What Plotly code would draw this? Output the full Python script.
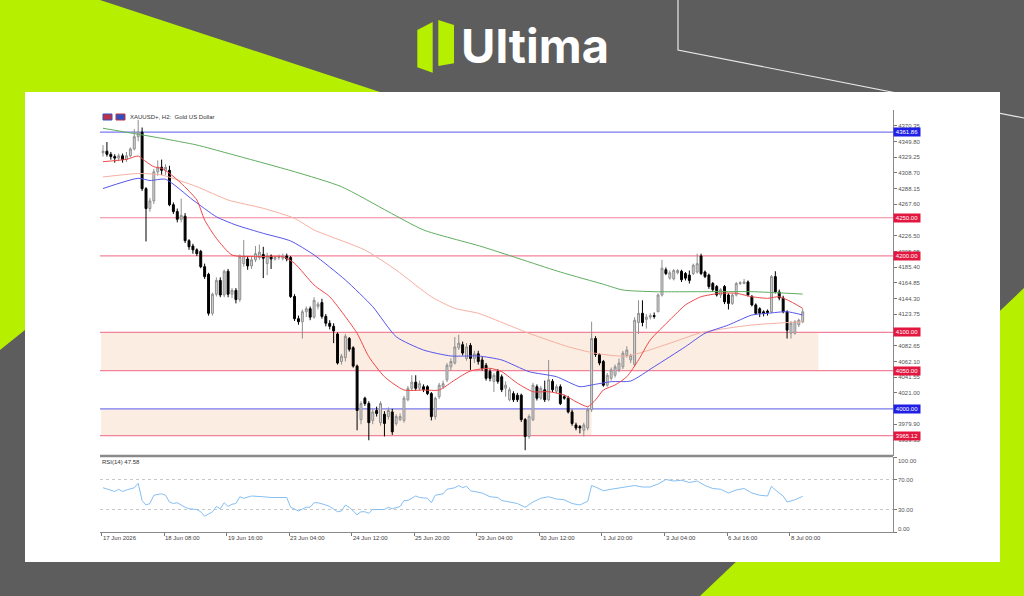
import plotly.graph_objects as go

# ---------------- data ----------------
date_labels = ["17 Jun 2026", "18 Jun 08:00", "19 Jun 16:00", "23 Jun 04:00", "24 Jun 12:00",
               "25 Jun 20:00", "29 Jun 04:00", "30 Jun 12:00", "1 Jul 20:00", "3 Jul 04:00",
               "6 Jul 16:00", "8 Jul 00:00"]
label_bars = [0, 16, 32, 48, 64, 80, 96, 112, 128, 144, 160, 176]

opens = [4335, 4337, 4333, 4330, 4328, 4331, 4326, 4331, 4340, 4356,
         4362, 4288, 4262, 4272, 4310, 4316, 4312, 4312, 4267, 4258,
         4248, 4252, 4220, 4213, 4208, 4206, 4186, 4176, 4125, 4150,
         4168, 4149, 4180, 4150, 4155, 4143, 4190, 4196, 4187, 4195,
         4198, 4202, 4190, 4200, 4196, 4198, 4197, 4200, 4198, 4147,
         4118, 4114, 4127, 4131, 4120, 4134, 4139, 4121, 4112, 4108,
         4098, 4062, 4067, 4092, 4080, 4056, 3986, 4014, 4007, 3985,
         3998, 3982, 3993, 3990, 3996, 3981, 3986, 3985, 4012, 4027,
         4035, 4027, 4029, 4029, 4020, 3990, 4016, 4029, 4038, 4055,
         4060, 4080, 4084, 4066, 4083, 4066, 4072, 4064, 4057, 4049,
         4036, 4049, 4042, 4027, 4012, 4020, 4018, 4018, 3986, 3964,
         3986, 4029, 4014, 4025, 4012, 4036, 4023, 4029, 4016, 4014,
         3996, 3979, 3977, 3972, 3975, 3999, 4092, 4071, 4062, 4031,
         4040, 4044, 4051, 4055, 4070, 4064, 4058, 4113, 4125, 4117,
         4120, 4122, 4127, 4149, 4182, 4171, 4170, 4178, 4180, 4177,
         4175, 4177, 4179, 4200, 4179, 4175, 4164, 4160, 4149, 4160,
         4149, 4138, 4149, 4164, 4164, 4166, 4147, 4136, 4131, 4127,
         4128, 4127, 4173, 4153, 4145, 4127, 4099, 4099, 4110, 4114]
highs = [4345, 4349, 4336, 4333, 4334, 4334, 4336, 4342, 4366, 4378,
         4368, 4290, 4276, 4314, 4325, 4326, 4320, 4318, 4270, 4262,
         4275, 4256, 4222, 4216, 4210, 4208, 4190, 4178, 4152, 4172,
         4172, 4182, 4183, 4158, 4158, 4202, 4221, 4200, 4200, 4213,
         4215, 4212, 4204, 4202, 4200, 4202, 4203, 4203, 4200, 4150,
         4122, 4130, 4134, 4134, 4146, 4140, 4144, 4124, 4116, 4112,
         4100, 4072, 4098, 4094, 4082, 4058, 4010, 4016, 4010, 4000,
         4003, 4010, 3997, 4002, 4000, 3993, 3994, 4017, 4030, 4044,
         4044, 4037, 4032, 4031, 4022, 4016, 4034, 4037, 4060, 4066,
         4094, 4097, 4088, 4086, 4086, 4076, 4076, 4068, 4060, 4052,
         4047, 4052, 4045, 4036, 4028, 4023, 4021, 4020, 3988, 3993,
         4034, 4032, 4030, 4037, 4064, 4039, 4032, 4032, 4018, 4017,
         3999, 3982, 3979, 3982, 4002, 4114, 4095, 4073, 4064, 4047,
         4054, 4058, 4066, 4076, 4082, 4072, 4120, 4142, 4142, 4124,
         4125, 4126, 4151, 4195, 4185, 4181, 4183, 4183, 4182, 4179,
         4181, 4190, 4203, 4203, 4181, 4177, 4166, 4162, 4158, 4162,
         4151, 4151, 4166, 4167, 4170, 4168, 4149, 4138, 4133, 4129,
         4130, 4175, 4180, 4156, 4148, 4129, 4115, 4116, 4118, 4131]
lows = [4330, 4330, 4326, 4322, 4324, 4322, 4323, 4329, 4338, 4350,
        4285, 4219, 4258, 4268, 4305, 4306, 4306, 4265, 4255, 4244,
        4244, 4217, 4208, 4203, 4200, 4184, 4170, 4122, 4122, 4147,
        4146, 4146, 4146, 4145, 4138, 4140, 4186, 4182, 4183, 4192,
        4195, 4171, 4175, 4183, 4194, 4195, 4194, 4193, 4145, 4115,
        4110, 4092, 4120, 4116, 4118, 4130, 4118, 4108, 4104, 4086,
        4058, 4058, 4062, 4075, 4054, 3972, 3980, 4004, 3959, 3980,
        3990, 3978, 3964, 3986, 3966, 3978, 3984, 3982, 4010, 4024,
        4024, 4024, 4022, 4018, 3985, 3986, 4013, 4026, 4035, 4050,
        4058, 4077, 4070, 4063, 4051, 4060, 4058, 4050, 4037, 4036,
        4022, 4033, 4022, 4016, 4010, 4009, 4009, 3983, 3946, 3961,
        3984, 4011, 4012, 4009, 4010, 4022, 4020, 4005, 4012, 3994,
        3978, 3972, 3968, 3964, 3972, 3996, 4068, 4057, 4029, 4029,
        4037, 4041, 4048, 4052, 4067, 4060, 4055, 4098, 4108, 4105,
        4117, 4118, 4127, 4147, 4175, 4169, 4168, 4176, 4166, 4168,
        4164, 4175, 4177, 4175, 4171, 4157, 4153, 4147, 4145, 4137,
        4130, 4136, 4147, 4162, 4163, 4147, 4134, 4123, 4120, 4121,
        4122, 4125, 4151, 4142, 4125, 4092, 4092, 4097, 4107, 4112]
closes = [4337, 4333, 4330, 4328, 4331, 4326, 4331, 4340, 4356, 4362,
          4288, 4262, 4272, 4310, 4316, 4312, 4316, 4267, 4258, 4248,
          4253, 4220, 4212, 4208, 4203, 4186, 4173, 4125, 4150, 4168,
          4149, 4180, 4150, 4155, 4143, 4199, 4200, 4187, 4195, 4203,
          4205, 4197, 4200, 4196, 4198, 4199, 4200, 4196, 4147, 4118,
          4114, 4127, 4131, 4120, 4142, 4137, 4121, 4112, 4108, 4102,
          4060, 4069, 4095, 4078, 4056, 3998, 4007, 4007, 3982, 3996,
          3994, 4007, 3981, 3998, 3970, 3990, 3990, 4014, 4027, 4035,
          4027, 4033, 4025, 4020, 3990, 4014, 4031, 4033, 4057, 4062,
          4081, 4086, 4073, 4081, 4066, 4072, 4062, 4053, 4040, 4040,
          4044, 4036, 4025, 4031, 4025, 4012, 4012, 3986, 3964, 3990,
          4031, 4014, 4027, 4012, 4038, 4025, 4029, 4007, 4014, 3996,
          3981, 3975, 3975, 3979, 3999, 4092, 4071, 4060, 4031, 4044,
          4051, 4055, 4060, 4073, 4077, 4070, 4116, 4125, 4113, 4120,
          4122, 4121, 4149, 4184, 4177, 4178, 4181, 4181, 4169, 4171,
          4168, 4188, 4190, 4177, 4173, 4160, 4156, 4149, 4156, 4140,
          4138, 4149, 4164, 4165, 4166, 4149, 4136, 4125, 4125, 4125,
          4126, 4173, 4153, 4145, 4127, 4103, 4112, 4114, 4116, 4127]

# moving averages (bar index, price)
ma_red_bars = [0, 6, 9, 11, 13, 15, 17, 20, 24, 26, 29, 33, 39, 46, 49, 54, 58, 62, 65, 68,
               72, 77, 82, 86, 90, 94, 99, 102, 106, 110, 114, 118, 121, 124, 126, 128, 131,
               134, 137, 140, 145, 149, 153, 158, 162, 166, 170, 173, 176, 179]
ma_red_vals = [4323.3, 4326.4, 4330.7, 4323.3, 4316.7, 4314.6, 4308.1, 4295.0, 4273.2, 4247.0,
               4223.1, 4201.3, 4199.1, 4199.1, 4190.4, 4162.0, 4146.7, 4120.6, 4098.9, 4068.3,
               4042.1, 4024.7, 4024.7, 4024.7, 4037.8, 4049.6, 4053.1, 4048.7, 4033.5, 4022.5,
               4022.5, 4018.2, 4009.4, 4002.9, 4011.7, 4024.7, 4031.3, 4042.1, 4064.0, 4090.1,
               4116.3, 4135.9, 4146.7, 4151.2, 4151.2, 4146.7, 4144.6, 4146.7, 4140.2, 4131.5]
ma_blue_bars = [0, 9, 12, 16, 23, 29, 34, 41, 48, 54, 62, 69, 75, 82, 89, 96, 102, 109, 116,
                122, 125, 130, 135, 141, 149, 154, 160, 166, 170, 175, 179]
ma_blue_vals = [4288.2, 4301.6, 4298.7, 4300.3, 4273.2, 4251.3, 4240.5, 4229.6, 4219.6, 4201.3,
                4168.6, 4133.7, 4094.4, 4077.0, 4069.2, 4069.2, 4064.0, 4048.7, 4042.1, 4029.0,
                4031.3, 4035.6, 4036.5, 4055.2, 4081.4, 4098.9, 4109.7, 4122.8, 4125.0, 4127.1,
                4122.8]
ma_salmon_bars = [0, 9, 15, 24, 32, 41, 49, 54, 67, 75, 84, 90, 96, 109, 119, 126, 134, 145,
                  153, 166, 179]
ma_salmon_vals = [4303.3, 4307.8, 4305.9, 4290.6, 4273.2, 4262.3, 4249.2, 4234.0, 4207.8, 4181.6,
                  4146.7, 4131.5, 4125.0, 4098.8, 4081.3, 4072.7, 4069.0, 4085.8, 4099.7, 4109.7,
                  4114.0]
ma_green_bars = [0, 15, 24, 32, 49, 61, 73, 82, 97, 117, 128, 133, 141, 154, 166, 179]
ma_green_vals = [4367.0, 4353.9, 4345.1, 4334.2, 4310.2, 4290.6, 4257.9, 4234.0, 4212.1, 4179.0,
                 4163.0, 4155.5, 4153.3, 4153.3, 4153.3, 4150.2]

rsi_bars = [0, 2, 3, 4, 5, 6, 7, 8, 9, 10, 11, 12, 13, 15, 16, 17, 18, 19, 21, 22, 24, 25, 26,
            28, 29, 30, 31, 32, 33, 34, 35, 36, 38, 40, 41, 43, 47, 48, 49, 50, 52, 53, 54, 55,
            57, 58, 60, 61, 62, 63, 65, 66, 67, 68, 69, 71, 72, 73, 74, 76, 77, 78, 80, 81, 83,
            84, 85, 87, 88, 90, 91, 92, 93, 94, 96, 97, 99, 101, 102, 104, 106, 108, 110, 112,
            114, 116, 118, 120, 122, 124, 125, 126, 128, 130, 132, 134, 136, 138, 140, 142, 144,
            146, 148, 150, 152, 154, 156, 158, 160, 162, 164, 166, 168, 170, 171, 172, 174, 175,
            176, 177, 179]
rsi_vals = [59, 56, 54, 57, 54, 56, 57, 59, 65, 42, 36, 38, 49, 51, 49, 40, 38, 39, 33, 31, 30,
            27, 21, 27, 34, 31, 39, 34, 37, 38, 47, 45, 48, 48, 47, 46, 46, 33, 30, 28, 33, 33,
            39, 39, 36, 34, 27, 28, 36, 33, 23, 27, 27, 25, 30, 30, 30, 33, 31, 34, 42, 42, 48,
            46, 45, 39, 49, 51, 57, 59, 62, 59, 61, 55, 53, 52, 47, 46, 42, 40, 38, 33, 40, 45,
            47, 44, 43, 38, 36, 41, 62, 60, 55, 57, 59, 60, 62, 60, 60, 64, 70, 68, 69, 66, 68,
            62, 58, 57, 52, 56, 58, 52, 49, 48, 61, 56, 48, 40, 41, 43, 47.58]

level_prices = [4361.86, 4250.00, 4200.00, 4100.00, 4050.00, 4000.00, 3965.12]
level_texts = ["4361.86", "4250.00", "4200.00", "4100.00", "4050.00", "4000.00", "3965.12"]
level_kinds = ["blue", "red", "red", "red", "red", "blue", "red"]
zone_low = [4050.00, 3965.12]
zone_high = [4100.00, 4000.00]
zone_start_bar = [-0.5, -0.5]
zone_end_bar = [183.0, 125.0]

price_ticks = [4370.35, 4349.80, 4329.25, 4308.70, 4288.15, 4267.60, 4247.05, 4226.50, 4205.95,
               4185.40, 4164.85, 4144.30, 4123.75, 4103.20, 4082.65, 4062.10, 4041.55, 4021.00,
               4000.45, 3979.90, 3959.35]
# ticks whose labels sit fully under a level price box
covered_ticks = [4247.05, 4103.20, 4000.45]
rsi_ticks = [100, 70, 30, 0]
rsi_tick_texts = ["100.00", "70.00", "30.00", "0.00"]
rsi_levels = [70, 30]
title_text = "XAUUSD+, H2:  Gold US Dollar"
rsi_title = "RSI(14) 47.58"
brand = "Ultima"

# ---------------- layout helpers (pixel -> paper) ----------------
W, H = 1024, 596
def X(p):
    return p / W
def Y(p):
    return 1 - p / H

GRAY = "#5d5d5d"
LIME = "#b6ef00"
FONT = "Liberation Sans"
XR = [-0.77, 202.1]
YR = [3938.4, 4390.9]

fig = go.Figure()

fig.add_trace(go.Candlestick(
    x=list(range(len(closes))), open=opens, high=highs, low=lows, close=closes,
    xaxis="x", yaxis="y",
    increasing=dict(line=dict(color="#8f8f8f", width=1), fillcolor="#d6d6d6"),
    decreasing=dict(line=dict(color="#000000", width=1), fillcolor="#000000"),
    whiskerwidth=0, showlegend=False, hoverinfo="skip"))

for bars, vals, col in [(ma_green_bars, ma_green_vals, "#5fae5f"),
                        (ma_salmon_bars, ma_salmon_vals, "#f6b0a0"),
                        (ma_blue_bars, ma_blue_vals, "#5656ea"),
                        (ma_red_bars, ma_red_vals, "#f04848")]:
    fig.add_trace(go.Scatter(x=bars, y=vals, mode="lines", xaxis="x", yaxis="y",
                             line=dict(color=col, width=1, shape="spline", smoothing=0.6),
                             showlegend=False, hoverinfo="skip"))

fig.add_trace(go.Scatter(x=rsi_bars, y=rsi_vals, mode="lines", xaxis="x2", yaxis="y2",
                         line=dict(color="#86bff2", width=1), showlegend=False, hoverinfo="skip"))

shapes = []
def poly(points, fill, line=None, width=0, layer="below"):
    d = "M " + " L ".join(f"{X(a):.5f},{Y(b):.5f}" for a, b in points)
    if fill:
        d += " Z"
    return dict(type="path", xref="paper", yref="paper", path=d, layer=layer,
                fillcolor=fill if fill else "rgba(0,0,0,0)",
                line=dict(color=line if line else "rgba(0,0,0,0)", width=width))

# background decoration
shapes.append(poly([(0, 0), (100, 0), (380, 92), (25, 92), (25, 330), (0, 350)], LIME))
shapes.append(poly([(1024, 288), (1024, 596), (700, 596)], LIME))
shapes.append(poly([(678, 0), (678, 50), (1024, 118)], None, "#e8e8e8", 1.2))
shapes.append(dict(type="rect", xref="paper", yref="paper", x0=X(25), x1=X(1000), y0=Y(562), y1=Y(92),
                   fillcolor="white", line=dict(width=0), layer="below"))
# logo icon
shapes.append(poly([(417.3, 30), (432.7, 22), (432.7, 72.7), (417.3, 67.3)], LIME))
shapes.append(poly([(438.3, 20), (454, 25), (454, 63.3), (438.3, 66)], LIME))

# zones
for lo, hi, s, e in zip(zone_low, zone_high, zone_start_bar, zone_end_bar):
    shapes.append(dict(type="rect", xref="x", yref="y", x0=s, x1=e, y0=lo, y1=hi,
                       fillcolor="#fbede2", line=dict(width=0), layer="below"))
# level lines
for p, k in zip(level_prices, level_kinds):
    col = "#7a7af0" if k == "blue" else "#f2849a"
    shapes.append(dict(type="line", xref="x", yref="y", x0=XR[0], x1=XR[1], y0=p, y1=p,
                       line=dict(color=col, width=1.2), layer="below"))
# rsi dotted levels
for r in rsi_levels:
    shapes.append(dict(type="line", xref="x2", yref="y2", x0=XR[0], x1=XR[1], y0=r, y1=r,
                       line=dict(color="#c8c8c8", width=1, dash="dot"), layer="below"))
# separator between panels
shapes.append(dict(type="line", xref="paper", yref="paper", x0=X(100), x1=X(893), y0=Y(456), y1=Y(456),
                   line=dict(color="#8a8a8a", width=2.5)))
# title icons
shapes.append(dict(type="rect", xref="paper", yref="paper", x0=X(103), x1=X(112), y0=Y(120), y1=Y(114),
                   fillcolor="#c03048", line=dict(color="#3050c0", width=1)))
shapes.append(dict(type="rect", xref="paper", yref="paper", x0=X(116), x1=X(125), y0=Y(120), y1=Y(114),
                   fillcolor="#3050c0", line=dict(color="#c03048", width=1)))

annotations = []
annotations.append(dict(text=f"<b>{brand}</b>", x=X(535), y=Y(45), xref="paper", yref="paper",
                        showarrow=False, font=dict(family="Inter", size=47, color="white"),
                        xanchor="center", yanchor="middle"))
annotations.append(dict(text=title_text, x=X(128), y=Y(117), xref="paper", yref="paper",
                        showarrow=False, font=dict(family=FONT, size=6, color="#333333"),
                        xanchor="left", yanchor="middle"))
annotations.append(dict(text=rsi_title, x=X(100), y=Y(462.5), xref="paper", yref="paper",
                        showarrow=False, font=dict(family=FONT, size=6, color="#333333"),
                        xanchor="left", yanchor="middle"))
for p, t, k in zip(level_prices, level_texts, level_kinds):
    annotations.append(dict(text=t, x=X(893), y=p, xref="paper", yref="y", showarrow=False,
                            xanchor="left", yanchor="middle",
                            font=dict(family=FONT, size=6, color="white"),
                            bgcolor="#1f1fe6" if k == "blue" else "#e3163f",
                            width=24, height=6, borderpad=1))
for b, t in zip(label_bars, date_labels):
    annotations.append(dict(text=t, x=b - 0.35, y=Y(537.5), xref="x2", yref="paper", showarrow=False,
                            xanchor="left", yanchor="middle", xshift=-1,
                            font=dict(family=FONT, size=6, color="#444444")))
rsi_label_y = [460.7, 480, 510, 529]
for yy, t in zip(rsi_label_y, rsi_tick_texts):
    annotations.append(dict(text=t, x=X(896), y=Y(yy), xref="paper", yref="paper", showarrow=False,
                            xanchor="left", yanchor="middle",
                            font=dict(family=FONT, size=6, color="#555555")))

tick_text = ["" if v in covered_ticks else f"{v:.2f}" for v in price_ticks]

fig.update_layout(
    width=W, height=H, margin=dict(l=0, r=0, t=0, b=0),
    paper_bgcolor=GRAY, plot_bgcolor="rgba(0,0,0,0)",
    hovermode=False, showlegend=False, dragmode=False,
    shapes=shapes, annotations=annotations,
    xaxis=dict(domain=[X(100), X(893)], range=XR, anchor="y", showgrid=False, zeroline=False,
               showticklabels=False, ticks="", showline=False, rangeslider=dict(visible=False),
               fixedrange=True),
    yaxis=dict(domain=[Y(456), Y(110)], range=YR, anchor="x", side="right", showgrid=False,
               zeroline=False, tickvals=price_ticks, ticktext=tick_text,
               ticks="outside", ticklen=3, tickcolor="#777777", tickwidth=1,
               tickfont=dict(family=FONT, size=6, color="#555555"),
               showline=True, linecolor="#8a8a8a", linewidth=1, fixedrange=True),
    xaxis2=dict(domain=[X(100), X(893)], range=XR, anchor="y2", showgrid=False, zeroline=False,
                tickvals=[b - 0.35 for b in label_bars], showticklabels=False, ticks="outside",
                ticklen=3, tickcolor="#777777", showline=True, linecolor="#8a8a8a", linewidth=1,
                fixedrange=True),
    yaxis2=dict(domain=[Y(532), Y(457)], range=[0, 100], anchor="x2", side="right", showgrid=False,
                zeroline=False, tickvals=rsi_ticks, showticklabels=False, ticks="outside", ticklen=3,
                tickcolor="#777777", showline=True, linecolor="#8a8a8a", linewidth=1,
                fixedrange=True),
)

fig.write_html("out.html")
